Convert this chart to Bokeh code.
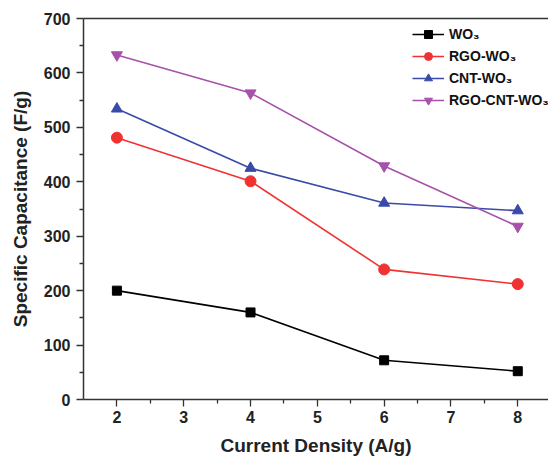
from bokeh.plotting import figure
from bokeh.models import Range1d, LinearAxis, FixedTicker, Legend, LegendItem
from bokeh.embed import file_html
from bokeh.resources import INLINE

current_density = [2, 4, 6, 8]
wo3 = [200, 160, 72, 52]
rgo_wo3 = [481, 401, 239, 212]
cnt_wo3 = [534, 425, 361, 347]
rgo_cnt_wo3 = [633, 563, 429, 318]

names = ["WO₃", "RGO-WO₃", "CNT-WO₃", "RGO-CNT-WO₃"]
colors = ["#000000", "#f03232", "#3a4aa8", "#a652aa"]
markers = ["square", "circle", "triangle", "inverted_triangle"]
sizes = [9, 11, 11, 11]
series = [wo3, rgo_wo3, cnt_wo3, rgo_cnt_wo3]

p = figure(width=548, height=462, output_backend="svg", toolbar_location=None,
           x_range=Range1d(1.5, 8.46), y_range=Range1d(0, 700),
           min_border_left=83, min_border_right=0, min_border_top=18, min_border_bottom=63)
p.outline_line_color = None
p.xgrid.visible = False
p.ygrid.visible = False
p.background_fill_color = "white"
p.border_fill_color = "white"

font = "Liberation Sans"
for ax in [p.xaxis[0], p.yaxis[0]]:
    ax.axis_line_color = "#333333"
    ax.axis_line_width = 1.5
    ax.major_tick_line_color = "#333333"
    ax.minor_tick_line_color = "#333333"
    ax.major_tick_line_width = 1.3
    ax.minor_tick_line_width = 1.3
    ax.major_tick_in = 0
    ax.major_tick_out = 7
    ax.minor_tick_in = 0
    ax.minor_tick_out = 4
    ax.major_label_text_font = font
    ax.major_label_text_font_style = "bold"
    ax.major_label_text_font_size = "16px"
    ax.major_label_text_color = "#222222"
    ax.axis_label_text_font = font
    ax.axis_label_text_font_style = "bold"
    ax.axis_label_text_font_size = "19px"
    ax.axis_label_text_color = "#222222"

p.xaxis.ticker = FixedTicker(ticks=[2, 3, 4, 5, 6, 7, 8], minor_ticks=[2.5, 3.5, 4.5, 5.5, 6.5, 7.5])
p.yaxis.ticker = FixedTicker(ticks=list(range(0, 701, 100)), minor_ticks=list(range(50, 700, 100)))
p.xaxis.axis_label = "Current Density (A/g)"
p.yaxis.axis_label = "Specific Capacitance (F/g)"
p.xaxis.axis_label_standoff = 9
p.yaxis.axis_label_standoff = 10
p.xaxis.major_label_standoff = 4
p.yaxis.major_label_standoff = 6

top = LinearAxis(ticker=FixedTicker(ticks=[], minor_ticks=[]),
                 major_tick_line_color=None, minor_tick_line_color=None,
                 axis_line_color="#333333", axis_line_width=1.5)
p.add_layout(top, "above")

items = []
for name, c, m, s, ys in zip(names, colors, markers, sizes, series):
    r1 = p.line(current_density, ys, line_color=c, line_width=1.6)
    r2 = p.scatter(current_density, ys, marker=m, size=s, fill_color=c, line_color=c)
    items.append(LegendItem(label=name, renderers=[r1, r2]))

legend = Legend(items=items, location=(329, 289))
legend.border_line_color = None
legend.background_fill_alpha = 0
legend.label_text_font = font
legend.label_text_font_style = "bold"
legend.label_text_font_size = "14px"
legend.label_text_color = "#111111"
legend.glyph_width = 32
legend.glyph_height = 20
legend.label_height = 20
legend.spacing = 2
legend.padding = 0
legend.margin = 0
legend.label_standoff = 5
p.add_layout(legend)

open("out.html", "w").write(file_html(p, INLINE))
